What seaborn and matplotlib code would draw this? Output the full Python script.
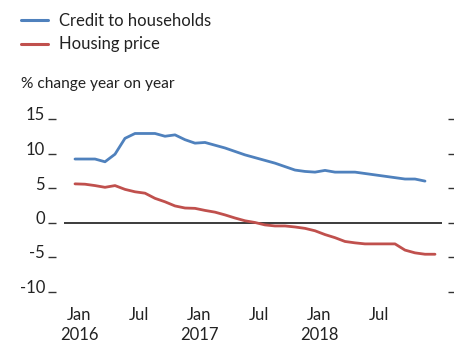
import matplotlib
matplotlib.use("Agg")
import matplotlib.pyplot as plt
import matplotlib.transforms as mtransforms
import numpy as np
import pandas as pd
import seaborn as sns

# ---- data ----
series_names = ["Credit to households", "Housing price"]
# monthly, Jan 2016 .. Dec 2018
credit = [9.2, 9.2, 9.2, 8.8, 9.9, 12.2, 12.9, 12.9, 12.9, 12.5, 12.7, 12.0,
          11.5, 11.6, 11.2, 10.8, 10.3, 9.8, 9.4, 9.0, 8.6, 8.1, 7.6, 7.4,
          7.3, 7.55, 7.3, 7.3, 7.3, 7.1, 6.9, 6.7, 6.5, 6.3, 6.3, 6.0]
# monthly, Jan 2016 .. Jan 2019
housing = [5.6, 5.55, 5.35, 5.1, 5.35, 4.8, 4.45, 4.25, 3.5, 3.0, 2.4, 2.1,
           2.05, 1.75, 1.5, 1.1, 0.65, 0.25, 0.0, -0.35, -0.5, -0.5, -0.65, -0.85,
           -1.2, -1.75, -2.2, -2.75, -2.95, -3.1, -3.1, -3.1, -3.1, -4.0, -4.4, -4.6,
           -4.6]
xtick_months = [0, 6, 12, 18, 24, 30]
xtick_labels = ["Jan\n2016", "Jul", "Jan\n2017", "Jul", "Jan\n2018", "Jul"]
yticks = [15, 10, 5, 0, -5, -10]
ylabel_text = "% change year on year"

colors = ["#4F81BD", "#C0504D"]

df = pd.concat([
    pd.DataFrame({"month": np.arange(len(credit)), "value": credit, "series": series_names[0]}),
    pd.DataFrame({"month": np.arange(len(housing)), "value": housing, "series": series_names[1]}),
])

sns.set_theme(style="white")
plt.rcParams["font.family"] = ["Lato", "DejaVu Sans"]
plt.rcParams["text.color"] = "#222222"

W, H = 454, 346
fig = plt.figure(figsize=(W / 100, H / 100), dpi=100)
ax = fig.add_axes([64 / W, 1 - 298.4 / H, 378 / W, (298.4 - 112.1) / H])

sns.lineplot(data=df, x="month", y="value", hue="series", palette=colors,
             linewidth=2.0, ax=ax, zorder=3)
ax.axhline(0, color="#1a1a1a", lw=1.2, zorder=2)

ax.set_xlim(-1.1, 36.7)
ax.set_ylim(-11, 16)
ax.set_xlabel("")
ax.set_ylabel("")

for s in ax.spines.values():
    s.set_visible(False)
ax.spines["left"].set_position(("outward", 6))
ax.spines["right"].set_position(("outward", 4.5))

ax.set_yticks(yticks)
ax.set_yticklabels([str(v) for v in yticks])
ax.tick_params(axis="y", left=True, right=True, direction="out", length=6,
               width=1.0, color="#333333", pad=1.7, labelsize=12, labelcolor="#222222")
for t in ax.yaxis.get_major_ticks():
    t.tick2line.set_color("#777777")
    t.tick2line.set_markersize(4)
for lab in ax.get_yticklabels():
    lab.set_verticalalignment("baseline")
    lab.set_transform(lab.get_transform() + mtransforms.ScaledTranslation(0, -1.5 / 100, fig.dpi_scale_trans))

ax.set_xticks([m + 0.4 for m in xtick_months])
ax.set_xticklabels(xtick_labels, linespacing=1.3)
ax.tick_params(axis="x", bottom=False, length=0, pad=6, labelsize=12, labelcolor="#222222")

sns.move_legend(ax, "upper left", bbox_to_anchor=(20.7 / W, 1 - 12.5 / H),
                bbox_transform=fig.transFigure, frameon=False, title=None,
                fontsize=12, handlelength=1.65, handletextpad=0.65,
                labelspacing=0.48, borderpad=0, borderaxespad=0)
for line in ax.get_legend().get_lines():
    line.set_linewidth(2.2)

fig.text(20.7 / W, 1 - 84 / H, ylabel_text, fontsize=11.2, va="center", ha="left",
         color="#222222")

fig.savefig("out.png", dpi=100)
